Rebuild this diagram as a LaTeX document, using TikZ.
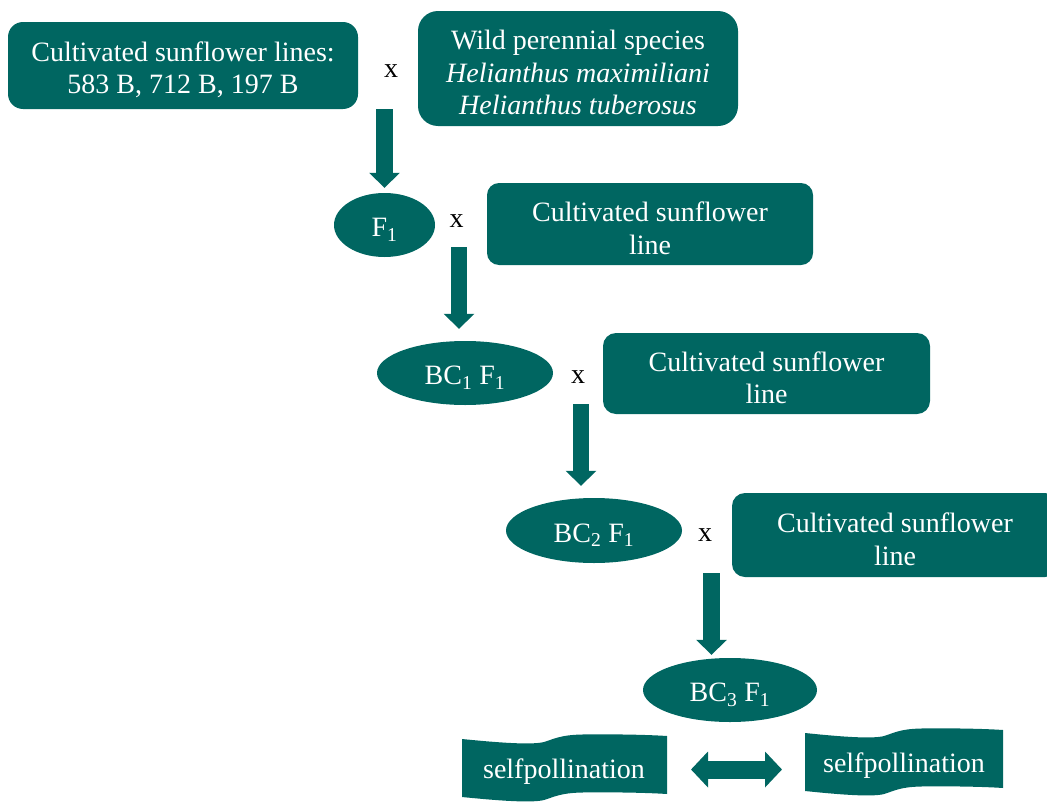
\documentclass[tikz,border=0pt]{standalone}
\usepackage{fontspec}
\setmainfont{Liberation Serif}
\usetikzlibrary{arrows.meta,shapes.geometric}
\definecolor{tealA}{RGB}{0,102,97}
\newcommand\padtop{\rule{0pt}{28pt}}
\newcommand\wavepath{(0,0) .. controls (40,4) and (70,6) .. (82,3) .. controls (92,0) and (98,-4) .. (120,-4.5) .. controls (160,-5) and (190,-4) .. (205,-3) -- (205,55) .. controls (190,54) and (160,53) .. (120,53.5) .. controls (98,54) and (92,58) .. (82,61) .. controls (70,64) and (40,62) .. (0,58) -- cycle}
\begin{document}
\begin{tikzpicture}[x=1pt,y=-1pt,
  txt/.style={font=\fontsize{28}{32.5}\selectfont},
  flowbox/.style={txt, fill=tealA, text=white, rounded corners=#1, align=center, inner sep=0pt},
  flowbox/.default=13pt,
  oval/.style={txt, ellipse, fill=tealA, text=white, inner sep=0pt},
  xmark/.style={txt, text=black, inner sep=0pt},
  varrow/.style={draw=tealA, line width=16.5pt, -{Triangle[width=30pt,length=15pt]}},
  darrow/.style={draw=tealA, line width=18pt, {Triangle[width=35pt,length=17pt]}-{Triangle[width=35pt,length=17pt]}},
  wave/.style={fill=tealA}
]
\useasboundingbox (0,0) rectangle (1047,803);
\clip (0,0) rectangle (1047,803);

% top row
\node[flowbox=15pt, minimum width=350pt, minimum height=87pt] (c0) at (183,65.5)
  {\padtop Cultivated sunflower lines:\\583 B, 712 B, 197 B};
\node[xmark] (x1) at (391,71) {x};
\node[flowbox=20pt, minimum width=320pt, minimum height=115pt] (wild) at (578,68.5)
  {\padtop Wild perennial species\\\textit{Helianthus maximiliani}\\\textit{Helianthus tuberosus}};

% F1
\node[oval, minimum width=101pt, minimum height=64pt] (F1) at (384.5,225) {\padtop F\textsubscript{1}};
\node[xmark] (x2) at (456.5,221) {x};
\node[flowbox=12pt, minimum width=326pt, minimum height=82pt] (c1) at (650,224)
  {\padtop Cultivated sunflower\\line};

% BC1
\node[oval, minimum width=176pt, minimum height=64pt] (BC1) at (465,373) {\padtop BC\textsubscript{1} F\textsubscript{1}};
\node[xmark] (x3) at (578,377) {x};
\node[flowbox=13pt, minimum width=327pt, minimum height=81pt] (c2) at (766.5,373.5)
  {\padtop Cultivated sunflower\\line};

% BC2
\node[oval, minimum width=176pt, minimum height=65pt] (BC2) at (594,530.5) {\padtop BC\textsubscript{2} F\textsubscript{1}};
\node[xmark] (x4) at (705,535) {x};
\node[flowbox=13pt, minimum width=326pt, minimum height=84pt] (c3) at (895,535)
  {\padtop Cultivated sunflower\\line};

% BC3
\node[oval, minimum width=174pt, minimum height=64pt] (BC3) at (730,690) {\padtop BC\textsubscript{3} F\textsubscript{1}};

% arrows
\draw[varrow, shorten >=5pt] (c0.south -| F1.north) -- (F1.north);
\coordinate (a2) at (459,247);
\draw[varrow, shorten >=12pt] (a2) -- (a2 |- BC1.north);
\coordinate (a3) at (581,404);
\draw[varrow, shorten >=12pt] (a3) -- (a3 |- BC2.north);
\coordinate (a4) at (711.5,573);
\draw[varrow, shorten >=3pt] (a4) -- (a4 |- BC3.north);

% self-pollination banners
\fill[wave, shift={(462,739)}] \wavepath;
\fill[wave, shift={(805,733)}, xscale=0.966] \wavepath;
\node[txt, text=white, anchor=base, inner sep=0pt] (sp1) at (564,778) {selfpollination};
\node[txt, text=white, anchor=base, inner sep=0pt] (sp2) at (904,772) {selfpollination};
\coordinate (b1e) at (667,769.5);
\coordinate (b2w) at (805,769.5);
\draw[darrow, shorten <=24pt, shorten >=23pt] (b1e) -- (b2w);
\end{tikzpicture}
\end{document}
